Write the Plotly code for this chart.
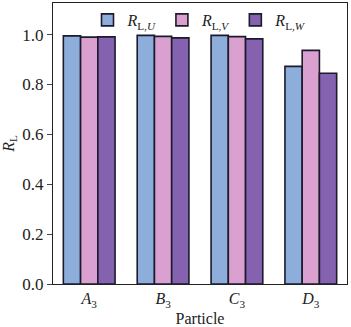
import plotly.graph_objects as go

categories = ["<i>A</i><sub>3</sub>", "<i>B</i><sub>3</sub>", "<i>C</i><sub>3</sub>", "<i>D</i><sub>3</sub>"]
r_u = [0.995, 0.997, 0.997, 0.873]
r_v = [0.990, 0.993, 0.992, 0.937]
r_w = [0.991, 0.987, 0.983, 0.845]
names = ["<i>R</i><sub>L,<i>U</i></sub>", "<i>R</i><sub>L,<i>V</i></sub>", "<i>R</i><sub>L,<i>W</i></sub>"]
colors = ["#8DADDB", "#DAA0D0", "#8462B0"]

fig = go.Figure()
for vals, nm, c in zip([r_u, r_v, r_w], names, colors):
    fig.add_trace(go.Bar(x=categories, y=vals, name=nm, marker=dict(color=c, line=dict(color="#1b1b2b", width=1.6))))

font = "Liberation Serif, DejaVu Serif, serif"
fig.update_layout(
    width=351, height=327,
    margin=dict(l=53, r=4, t=2, b=41),
    paper_bgcolor="white", plot_bgcolor="white",
    barmode="group", bargap=0.3, bargroupgap=0,
    font=dict(family=font, size=16, color="#222"),
    showlegend=True,
    legend=dict(orientation="h", x=0.5, xanchor="center", y=1.0, yanchor="top",
                bgcolor="rgba(0,0,0,0)", font=dict(size=16), itemwidth=30, tracegroupgap=0),
    xaxis=dict(range=[-0.49, 3.49], showline=True, linecolor="#222", linewidth=1.2, mirror=True,
               ticks="", ticklabelstandoff=0,
               title=dict(text="Particle", standoff=4, font=dict(size=16)), tickfont=dict(size=16)),
    yaxis=dict(range=[0, 1.127], showline=True, linecolor="#222", linewidth=1.2, mirror=True,
               ticks="outside", ticklen=5, tickcolor="#444", tickvals=[0, 0.2, 0.4, 0.6, 0.8, 1.0],
               tickformat=".1f", showgrid=False, zeroline=False,
               title=dict(text="<i>R</i><sub>L</sub>", standoff=6, font=dict(size=16)), tickfont=dict(size=17)),
)
fig.write_html("out.html")
